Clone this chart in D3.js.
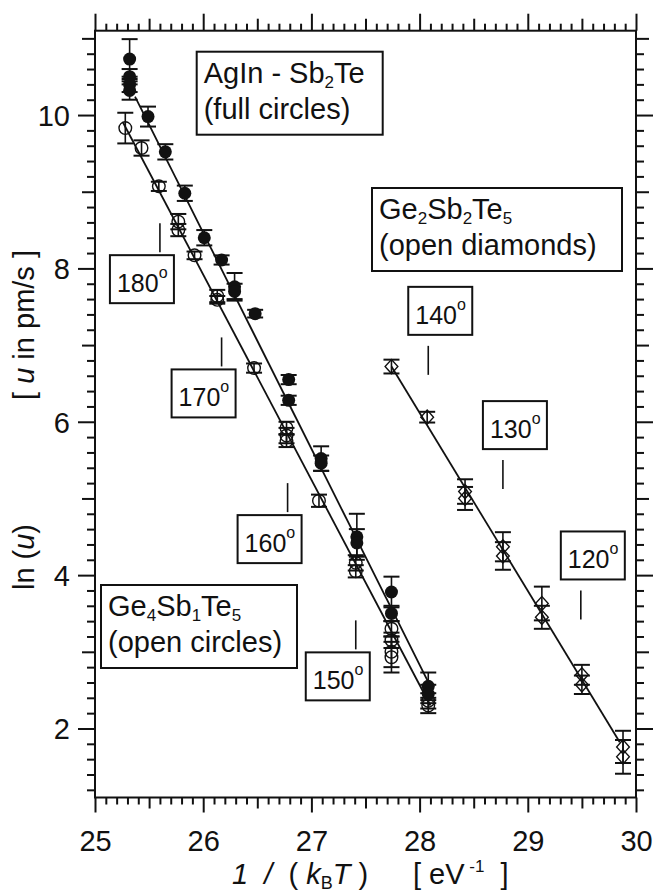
<!DOCTYPE html>
<html><head><meta charset="utf-8">
<script src="https://cdn.jsdelivr.net/npm/d3@7"></script>
<style>body{margin:0;background:#fff} text{font-family:"Liberation Sans",Arial,Helvetica,sans-serif;fill:#111;white-space:pre}</style>
</head><body><svg id="c" width="653" height="895"></svg>
<script>
// ---- data (x = 1/(kB T) in eV^-1, y = ln(u), err = half error bar) ----
const agInSb2Te = [
  [25.32,10.73,0.26],[25.32,10.50,0.10],[25.32,10.40,0.10],[25.32,10.32,0.12],
  [25.49,9.98,0.13],[25.65,9.52,0.10],[25.83,8.98,0.10],[26.01,8.40,0.10],
  [26.17,8.11,0.06],[26.29,7.76,0.18],[26.29,7.70,0.10],[26.48,7.41,0.05],
  [26.79,6.55,0.06],[26.79,6.28,0.06],[27.09,5.52,0.16],[27.09,5.46,0.10],
  [27.42,4.50,0.30],[27.42,4.42,0.18],[27.74,3.78,0.20],[27.74,3.50,0.10],
  [28.08,2.55,0.18],[28.08,2.45,0.12]
];
const ge4Sb1Te5 = [
  [25.28,9.83,0.20],[25.43,9.57,0.10],[25.59,9.07,0.06],[25.77,8.61,0.10],
  [25.77,8.50,0.08],[25.92,8.17,0.05],[26.13,7.64,0.08],[26.13,7.59,0.05],
  [26.47,6.70,0.06],[26.77,5.92,0.08],[26.77,5.82,0.10],[26.77,5.75,0.08],
  [27.07,4.97,0.08],[27.41,4.16,0.10],[27.41,4.05,0.08],[27.74,3.30,0.10],
  [27.74,3.15,0.10],[27.74,3.00,0.20],[27.74,2.93,0.20],[28.08,2.36,0.10],
  [28.08,2.30,0.10]
];
const ge2Sb2Te5 = [
  [27.74,6.72,0.09],[28.07,6.06,0.07],[28.42,5.09,0.16],[28.42,5.00,0.15],
  [28.77,4.37,0.19],[28.77,4.25,0.18],[29.13,3.63,0.22],[29.13,3.45,0.15],
  [29.50,2.70,0.13],[29.50,2.57,0.12],[29.88,1.76,0.21],[29.88,1.63,0.22]
];
const fitAgIn = [[25.37,10.24],[28.10,2.55]];
const fitGe415 = [[25.26,9.90],[28.10,2.30]];
const fitGe225 = [[27.74,6.72],[29.85,1.82]];
// temperature marks: label, x position (1/kT), y value of tick top
const tempLabels = ["180","170","160","150","140","130","120"];
const tempX = [25.60,26.17,26.78,27.41,28.08,28.77,29.49];
const tempTickTop = [8.59,7.10,5.20,3.41,6.99,5.50,3.80];
const tempBoxSide = ["below","below","below","below","above","above","above"];
const xTickLabels = [25,26,27,28,29,30];
const yTickLabels = [2,4,6,8,10];

// ---- layout ----
const svg = d3.select("#c");
const L=95, R=636, T=30.7, B=797.5;
const x = d3.scaleLinear().domain([25,30]).range([L,R]);
const y = d3.scaleLinear().domain([1.1,11.1]).range([B,T]);

const near=(a,b)=>Math.abs(a-b)<1e-6;
const xMinor = d3.range(25,30.0001,0.1).map(v=>+v.toFixed(2)).filter(v=>!near(v%0.5,0)&&!near(v%0.5,0.5));
const xMid = d3.range(25.5,30,1);
const yMinor = d3.range(1.2,11.1,0.2).map(v=>+v.toFixed(2)).filter(v=>!near(v,Math.round(v)));
const yUnit = d3.range(1,12,1).filter(v=>v%2===1 && v>=1.1);

function ticks(axisFn, scale, vals, size, tr, fmt){
  const g = svg.append("g").attr("transform",tr)
    .call(axisFn(scale).tickValues(vals).tickSize(size).tickSizeOuter(0).tickFormat(fmt||(()=>"")));
  g.select(".domain").remove();
  g.selectAll("line").attr("stroke","#111").attr("stroke-width",2);
  return g;
}
// bottom
ticks(d3.axisBottom,x,xMinor,7,`translate(0,${B})`);
ticks(d3.axisBottom,x,xMid,11,`translate(0,${B})`);
const gb = ticks(d3.axisBottom,x,xTickLabels,15,`translate(0,${B})`,d3.format("d"));
gb.call(g=>g.selectAll(".tick text").attr("font-size",29).attr("dy","0.71em").attr("y",33));
// top
ticks(d3.axisTop,x,xMinor,7,`translate(0,${T})`);
ticks(d3.axisTop,x,xMid,12,`translate(0,${T})`);
ticks(d3.axisTop,x,xTickLabels,17,`translate(0,${T})`);
// left
ticks(d3.axisLeft,y,yMinor,8,`translate(${L},0)`);
ticks(d3.axisLeft,y,yUnit,13,`translate(${L},0)`);
const gl = ticks(d3.axisLeft,y,yTickLabels,17,`translate(${L},0)`,d3.format("d"));
gl.call(g=>g.selectAll(".tick text").attr("font-size",29).attr("x",-25).attr("dy","0.36em"));
// right
ticks(d3.axisRight,y,yMinor,8,`translate(${R},0)`);
ticks(d3.axisRight,y,yUnit,13,`translate(${R},0)`);
ticks(d3.axisRight,y,yTickLabels,17,`translate(${R},0)`);
// frame
svg.append("rect").attr("x",L).attr("y",T).attr("width",R-L).attr("height",B-T)
  .attr("fill","none").attr("stroke","#111").attr("stroke-width",2);

// axis titles
const xt1 = svg.append("text").attr("x",232).attr("y",884).attr("font-size",29);
xt1.append("tspan").attr("font-style","italic").text("1  /  ");
xt1.append("tspan").text("( ");
xt1.append("tspan").attr("font-style","italic").text("k");
xt1.append("tspan").attr("font-size",18).attr("dy",5).text("B");
xt1.append("tspan").attr("font-style","italic").attr("dy",-5).text("T");
xt1.append("tspan").text(" )");
const xt2 = svg.append("text").attr("x",413).attr("y",884).attr("font-size",29);
xt2.append("tspan").text("[ eV");
xt2.append("tspan").attr("font-size",17).attr("dy",-12).text(" -1");
xt2.append("tspan").attr("dy",12).text("  ]");

const yt1 = svg.append("text").attr("transform","translate(34,557) rotate(-90)")
  .attr("text-anchor","middle").attr("font-size",29);
yt1.append("tspan").text("ln (");
yt1.append("tspan").attr("font-style","italic").text("u");
yt1.append("tspan").text(")");
const yt2 = svg.append("text").attr("transform","translate(34,325) rotate(-90)")
  .attr("text-anchor","middle").attr("font-size",29);
yt2.append("tspan").text("[ ");
yt2.append("tspan").attr("font-style","italic").text("u");
yt2.append("tspan").text(" in pm/s ]");

// fit lines
const line = d3.line().x(d=>x(d[0])).y(d=>y(d[1]));
[fitAgIn,fitGe415,fitGe225].forEach(f=>svg.append("path").attr("d",line(f))
  .attr("fill","none").attr("stroke","#111").attr("stroke-width",1.8));

// error bars
function errbars(data){
  const g = svg.append("g").attr("stroke","#111");
  data.forEach(d=>{
    const cx=x(d[0]), y1=y(d[1]+d[2]), y2=y(d[1]-d[2]);
    g.append("line").attr("x1",cx).attr("x2",cx).attr("y1",y1).attr("y2",y2).attr("stroke-width",1.6);
    [y1,y2].forEach(yy=>g.append("line").attr("x1",cx-8).attr("x2",cx+8).attr("y1",yy).attr("y2",yy).attr("stroke-width",2));
  });
}
errbars(ge4Sb1Te5); errbars(agInSb2Te); errbars(ge2Sb2Te5);

svg.append("g").selectAll("circle").data(ge4Sb1Te5).join("circle")
  .attr("cx",d=>x(d[0])).attr("cy",d=>y(d[1])).attr("r",6.3)
  .attr("fill","none").attr("stroke","#111").attr("stroke-width",1.4);
svg.append("g").selectAll("circle").data(agInSb2Te).join("circle")
  .attr("cx",d=>x(d[0])).attr("cy",d=>y(d[1])).attr("r",6.5).attr("fill","#111");
svg.append("g").selectAll("path").data(ge2Sb2Te5).join("path")
  .attr("d",d3.symbol(d3.symbolDiamond,90))
  .attr("transform",d=>`translate(${x(d[0])},${y(d[1])}) scale(1.25,0.8)`)
  .attr("fill","none").attr("stroke","#111").attr("stroke-width",1.3);

// legend boxes
function legendBox(bx,by,bw,bh,line1,line2){
  svg.append("rect").attr("x",bx).attr("y",by).attr("width",bw).attr("height",bh)
    .attr("fill","#fff").attr("stroke","#111").attr("stroke-width",2);
  const t1 = svg.append("text").attr("x",bx+7).attr("y",by+31).attr("font-size",29);
  line1.forEach(p=>{
    const s = t1.append("tspan").text(p[0]);
    if(p[1]==="sub") s.attr("font-size",17).attr("dy",5);
    else if(p[1]==="after") s.attr("dy",-5);
  });
  svg.append("text").attr("x",bx+7).attr("y",by+67).attr("font-size",29).text(line2);
}
legendBox(196.7,51.7,186,83,[["AgIn - Sb"],["2","sub"],["Te","after"]],"(full circles)");
legendBox(372,188,250,83,[["Ge"],["2","sub"],["Sb","after"],["2","sub"],["Te","after"],["5","sub"]],"(open diamonds)");
legendBox(101,585,196,83,[["Ge"],["4","sub"],["Sb","after"],["1","sub"],["Te","after"],["5","sub"]],"(open circles)");

// temperature marks
tempLabels.forEach((lab,i)=>{
  const tx = x(tempX[i]), ty = y(tempTickTop[i]);
  svg.append("line").attr("x1",tx).attr("x2",tx).attr("y1",ty).attr("y2",ty+29)
    .attr("stroke","#111").attr("stroke-width",1.6);
  let bx, by;
  if(tempBoxSide[i]==="below"){ bx = tx-50; by = ty+32; }
  else { bx = tx-20; by = ty-11-48; }
  svg.append("rect").attr("x",bx).attr("y",by).attr("width",64).attr("height",48)
    .attr("fill","#fff").attr("stroke","#111").attr("stroke-width",2);
  const t = svg.append("text").attr("x",bx+7).attr("y",by+37).attr("font-size",25);
  t.append("tspan").text(lab);
  t.append("tspan").attr("font-size",16).attr("dy",-14).text("o");
});
</script></body></html>
